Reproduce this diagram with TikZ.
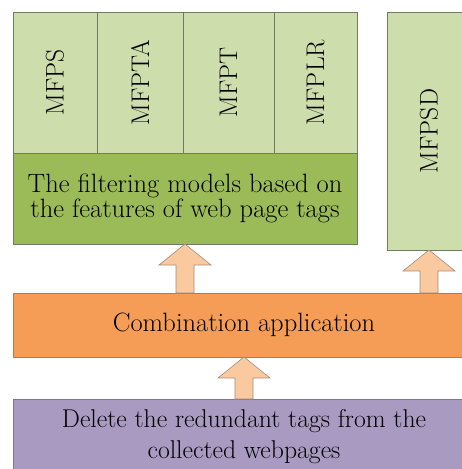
\documentclass[tikz,border=0pt]{standalone}
\usepackage{fontspec}
\usetikzlibrary{calc,positioning}

\definecolor{lightgreen}{RGB}{205,221,172}
\definecolor{darkgreen}{RGB}{155,187,89}
\definecolor{greenline}{RGB}{110,125,95}
\definecolor{orangebox}{RGB}{245,157,86}
\definecolor{orangeline}{RGB}{190,120,70}
\definecolor{purplebox}{RGB}{169,154,194}
\definecolor{purpleline}{RGB}{130,120,140}
\definecolor{arrowfill}{RGB}{250,201,160}
\definecolor{arrowline}{RGB}{160,140,125}

% fat block arrow: #1 = anchor of lower node, #2 = anchor of upper node
\newcommand{\fatarrow}[2]{%
  \filldraw[fatarrow] ($(#2 |- #1)+(-9,0)$) -- ($(#2)+(-9,-21)$) -- ($(#2)+(-26,-21)$)
    -- (#2) -- ($(#2)+(26,-21)$) -- ($(#2)+(9,-21)$) -- ($(#2 |- #1)+(9,0)$) -- cycle;}

\begin{document}
\begin{tikzpicture}[
		x=1pt, y=1pt,
		col/.style={draw=greenline, fill=lightgreen, minimum height=141, inner sep=0, outer sep=0,
			font=\fontsize{25.5}{27}\selectfont},
		wide/.style={draw, inner sep=0, outer sep=0, align=center,
			font=\fontsize{26.5}{25}\selectfont},
		fatarrow/.style={fill=arrowfill, draw=arrowline, line width=0.6pt}
		]
	\useasboundingbox (0,0) rectangle (462,469);
	\clip (0,0) rectangle (462,469);

	\node[col, minimum width=84, anchor=north west](c1) at (13,457){\rotatebox{90}{MFPS}};
	\node[col, minimum width=86, right=0pt of c1](c2){\rotatebox{90}{MFPTA}};
	\node[col, minimum width=91, right=0pt of c2](c3){\rotatebox{90}{MFPT}};
	\node[col, minimum width=83, right=0pt of c3](c4){\rotatebox{90}{MFPLR}};
	\node[wide, draw=greenline, fill=darkgreen, minimum width=344, minimum height=91,
		anchor=north west](filter) at (c1.south west){The filtering models based on\\the features of web page tags};
	\node[col, minimum width=84, minimum height=238, anchor=north west](mfpsd) at (387,457){\rotatebox{90}{MFPSD}};

	\node[wide, draw=orangeline, fill=orangebox, minimum width=462, minimum height=64,
		anchor=north west](comb) at (13,176){Combination application};
	\node[wide, draw=purpleline, fill=purplebox, minimum width=462, minimum height=76,
		anchor=north west, font=\fontsize{25.7}{31}\selectfont](delete) at (13,70){Delete the redundant tags from the\\collected webpages};

	\fatarrow{comb.north}{filter.south}
	\fatarrow{comb.north}{mfpsd.south}
	\fatarrow{delete.north}{comb.south}
\end{tikzpicture}
\end{document}
